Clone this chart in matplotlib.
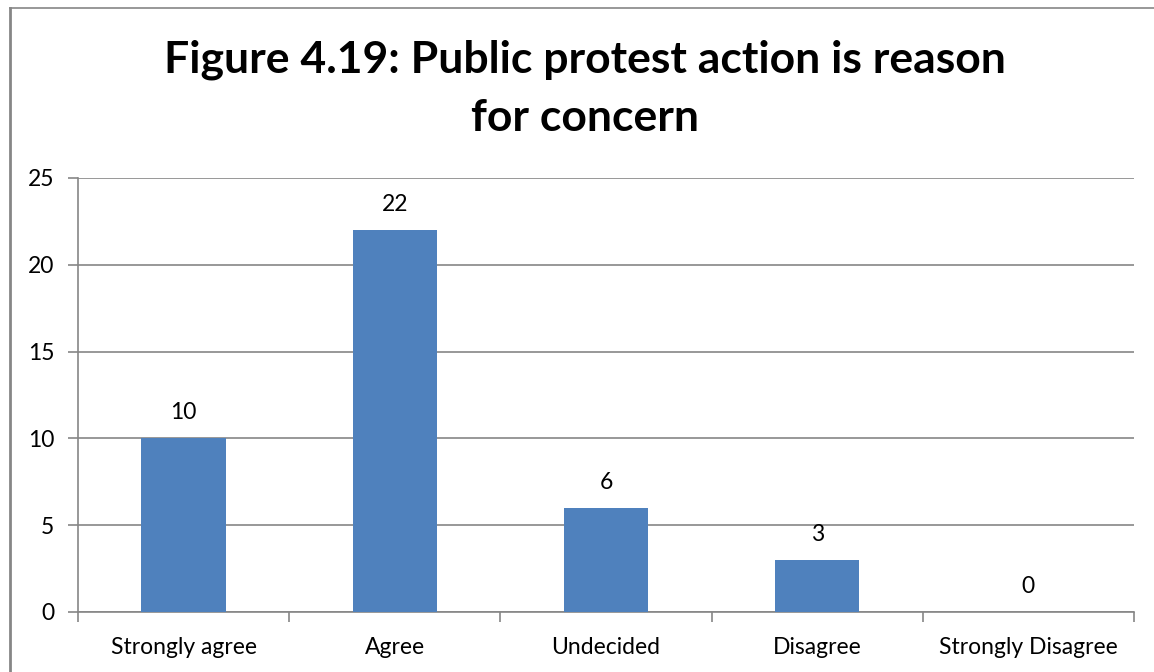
import matplotlib
matplotlib.use("Agg")
import matplotlib.pyplot as plt
from matplotlib.lines import Line2D
import numpy as np

categories = ["Strongly agree", "Agree", "Undecided", "Disagree", "Strongly Disagree"]
counts = [10, 22, 6, 3, 0]
yticks = [0, 5, 10, 15, 20, 25]

plt.rcParams['font.family'] = ['Lato', 'DejaVu Sans']

W, H = 1154, 672
fig = plt.figure(figsize=(W / 100, H / 100), dpi=100)
ax = fig.add_axes([78 / W, 1 - 612 / H, (1134 - 78) / W, (612 - 178) / H])

grey = "#868686"
bar_color = "#4F81BD"
fs = 16.5

x = np.arange(len(categories))
bars = ax.bar(x, counts, width=0.4, color=bar_color, zorder=3)
for xi, v in zip(x, counts):
    ax.annotate(str(v), (xi, v), xytext=(0, 11), textcoords="offset points",
                ha="center", va="bottom", fontsize=fs, color="black")

ax.set_xlim(-0.5, len(categories) - 0.5)
ax.set_ylim(0, 25)
ax.set_yticks(yticks)
ax.yaxis.grid(True, color=grey, linewidth=1.2, zorder=0)
ax.set_axisbelow(True)

# category labels centred under bars, tick marks on the boundaries
ax.set_xticks(np.arange(-0.5, len(categories)), minor=False)
ax.set_xticklabels([])
ax.set_xticks(x, minor=True)
ax.set_xticklabels(categories, minor=True, fontsize=fs)
ax.tick_params(axis="x", which="major", length=7, width=1.2, color=grey, direction="out")
ax.tick_params(axis="x", which="minor", length=0, pad=18)
ax.tick_params(axis="y", length=7, width=1.2, color=grey, labelsize=fs, pad=10)

for s in ["top", "right"]:
    ax.spines[s].set_visible(False)
for s in ["left", "bottom"]:
    ax.spines[s].set_color(grey)
    ax.spines[s].set_linewidth(1.2)

fig.text(585 / W, 1 - 60 / H, "Figure 4.19: Public protest action is reason",
         ha="center", va="center", fontsize=32, fontweight="bold")
fig.text(585 / W, 1 - 118 / H, "for concern",
         ha="center", va="center", fontsize=32, fontweight="bold")

# outer chart frame (top and left edges)
fig.add_artist(Line2D([9.5 / W, 9.5 / W], [0, 1 - 7.5 / H], transform=fig.transFigure,
                      color=grey, linewidth=2))
fig.add_artist(Line2D([9.5 / W, 1], [1 - 7.5 / H, 1 - 7.5 / H], transform=fig.transFigure,
                      color=grey, linewidth=1.2))

fig.savefig("out.png", dpi=100)
